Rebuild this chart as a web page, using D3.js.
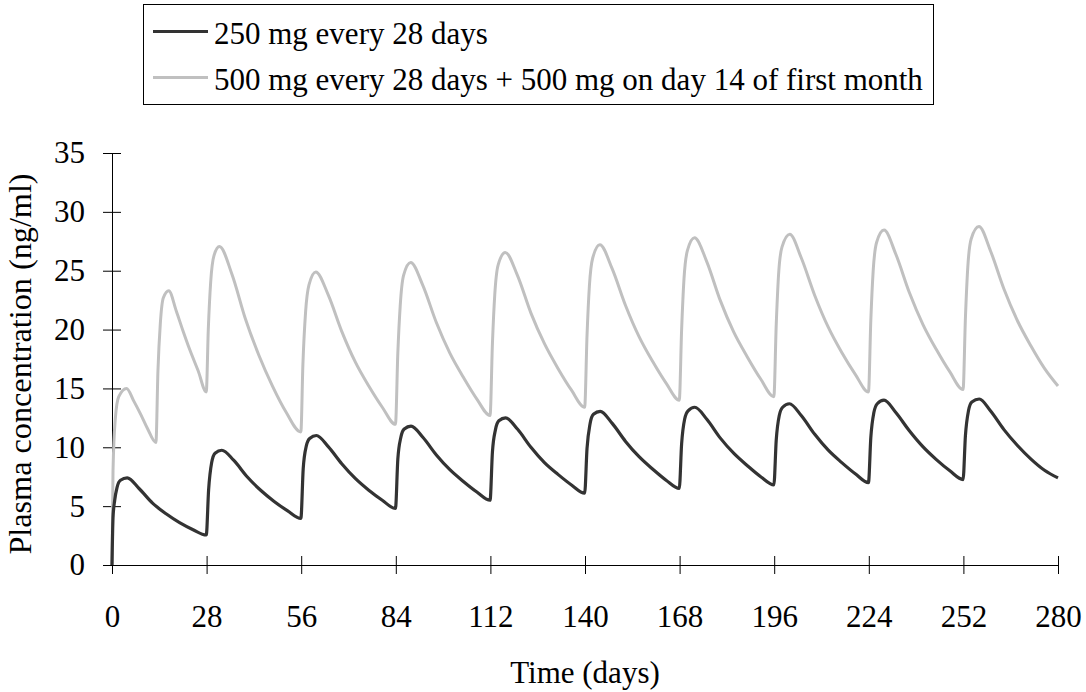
<!DOCTYPE html>
<html>
<head>
<meta charset="utf-8">
<script src="https://cdn.jsdelivr.net/npm/d3@7"></script>
<style>
  html, body { margin: 0; padding: 0; background: #fff; }
  svg { display: block; }
  text { font-family: "Liberation Serif", "Times New Roman", serif; fill: #000; }
</style>
</head>
<body>
<svg id="chart" width="1086" height="692"></svg>
<script>
// ---- data ----
const seriesNames = ["250 mg every 28 days", "500 mg every 28 days + 500 mg on day 14 of first month"];
const seriesColors = ["#333333", "#c0c0c0"];

const days250 = [0, 0.3, 0.8, 1.5, 2.5, 4.5, 8, 12, 16, 20, 24, 27.9,
  28.6, 29.5, 30.5, 32.5, 36, 40, 44, 48, 52, 55.9,
  56.6, 57.5, 58.5, 60.5, 64, 68, 72, 76, 80, 83.9,
  84.6, 85.5, 86.5, 88.5, 92, 96, 100, 104, 108, 111.9,
  112.6, 113.5, 114.5, 116.5, 120, 124, 128, 132, 136, 139.9,
  140.6, 141.5, 142.5, 144.5, 148, 152, 156, 160, 164, 167.9,
  168.6, 169.5, 170.5, 172.5, 176, 180, 184, 188, 192, 195.9,
  196.6, 197.5, 198.5, 200.5, 204, 208, 212, 216, 220, 223.9,
  224.6, 225.5, 226.5, 228.5, 232, 236, 240, 244, 248, 251.9,
  252.6, 253.5, 254.5, 256.7, 260, 264, 268, 272, 276, 280];
const conc250 = [0, 4.0, 5.5, 6.6, 7.2, 7.4, 6.5, 5.25, 4.35, 3.6, 3.0, 2.55,
  6.4, 8.7, 9.5, 9.75, 8.9, 7.5, 6.35, 5.4, 4.6, 3.95,
  8.2, 10.1, 10.75, 11.0, 10.05, 8.6, 7.35, 6.35, 5.5, 4.8,
  9.0, 10.85, 11.55, 11.8, 10.85, 9.35, 8.1, 7.1, 6.2, 5.5,
  9.6, 11.5, 12.25, 12.5, 11.55, 10.0, 8.7, 7.7, 6.8, 6.1,
  9.9, 12.0, 12.8, 13.05, 12.05, 10.5, 9.2, 8.15, 7.2, 6.5,
  10.3, 12.4, 13.1, 13.4, 12.4, 10.8, 9.5, 8.45, 7.5, 6.8,
  10.6, 12.7, 13.4, 13.7, 12.7, 11.1, 9.75, 8.7, 7.75, 7.0,
  10.85, 12.95, 13.7, 14.0, 12.95, 11.4, 10.05, 8.95, 8.0, 7.26,
  11.0, 13.1, 13.85, 14.1, 13.1, 11.5, 10.15, 9.0, 8.05, 7.4];

const days500 = [0, 0.3, 1.0, 2.0, 4.3, 6.5, 8.5, 10.5, 13.0,
  13.6, 14.3, 15.2, 16.8, 19, 21, 23, 25.5, 27.9,
  28.5, 29.2, 30.2, 31.8, 35.5, 39.5, 43.5, 47.5, 51.5, 55.9,
  56.5, 57.3, 58.3, 60.3, 64, 68, 72, 76, 80, 83.9,
  84.6, 85.3, 86.3, 88.4, 92, 96, 100, 104, 108, 111.9,
  112.6, 113.3, 114.3, 116.4, 120, 124, 128, 132, 136, 139.9,
  140.6, 141.3, 142.3, 144.4, 148, 152, 156, 160, 164, 167.9,
  168.6, 169.3, 170.3, 172.4, 176, 180, 184, 188, 192, 195.9,
  196.6, 197.3, 198.3, 200.6, 204, 208, 212, 216, 220, 223.9,
  224.6, 225.3, 226.3, 228.5, 232, 236, 240, 244, 248, 251.9,
  252.6, 253.3, 254.3, 256.6, 260, 264, 268, 272, 276, 280];
const conc500 = [0, 8.0, 12.5, 14.3, 15.0, 13.9, 12.8, 11.6, 10.4,
  16.5, 20.5, 22.7, 23.3, 21.6, 19.9, 18.3, 16.5, 14.7,
  20.0, 24.0, 26.3, 27.05, 24.7, 20.9, 17.8, 15.2, 13.0, 11.3,
  17.0, 21.5, 23.8, 24.9, 22.95, 19.85, 17.25, 15.2, 13.4, 11.95,
  18.0, 22.0, 24.6, 25.7, 23.75, 20.6, 18.0, 15.95, 14.1, 12.7,
  18.8, 23.0, 25.5, 26.55, 24.6, 21.4, 18.8, 16.7, 14.85, 13.4,
  19.5, 23.7, 26.1, 27.2, 25.2, 22.05, 19.4, 17.3, 15.45, 14.0,
  20.0, 24.3, 26.7, 27.8, 25.8, 22.5, 19.8, 17.7, 15.8, 14.3,
  20.4, 24.7, 27.0, 28.1, 26.1, 22.9, 20.2, 18.05, 16.2, 14.7,
  20.8, 25.0, 27.4, 28.45, 26.4, 23.15, 20.45, 18.3, 16.4, 14.9,
  21.0, 25.3, 27.7, 28.75, 26.7, 23.45, 20.75, 18.6, 16.7, 15.2];

const xTicks = [0, 28, 56, 84, 112, 140, 168, 196, 224, 252, 280];
const yTicks = [0, 5, 10, 15, 20, 25, 30, 35];
const xTitle = "Time (days)";
const yTitle = "Plasma concentration (ng/ml)";

// ---- layout ----
const svg = d3.select("#chart");
const mLeft = 112, mRight = 1058, mTop = 153, mBottom = 565;
const FS = 31;

const x = d3.scaleLinear().domain([0, 280]).range([mLeft, mRight]);
const y = d3.scaleLinear().domain([0, 35]).range([mBottom, mTop]);

// axes
const yAxis = d3.axisLeft(y).tickValues(yTicks).tickSizeInner(9).tickSizeOuter(0).tickPadding(18);
const gy = svg.append("g").attr("transform", `translate(${mLeft},0)`).call(yAxis);
gy.selectAll(".tick line").attr("x1", 9);
gy.selectAll("text").style("font-size", FS + "px").style("font-family", "Liberation Serif");

const xAxis = d3.axisBottom(x).tickValues(xTicks).tickSizeInner(9).tickSizeOuter(0).tickPadding(31);
const gx = svg.append("g").attr("transform", `translate(0,${mBottom})`).call(xAxis);
gx.selectAll(".tick line").attr("y1", -9);
gx.selectAll("text").style("font-size", FS + "px").style("font-family", "Liberation Serif");

svg.selectAll(".domain").attr("stroke", "#000");
svg.selectAll(".tick line").attr("stroke", "#000");

// lines
const line = d3.line().x(d => x(d[0])).y(d => y(d[1])).curve(d3.curveMonotoneX);
const data250 = days250.map((d, i) => [d, conc250[i]]);
const data500 = days500.map((d, i) => [d, conc500[i]]);

svg.append("path").datum(data500)
  .attr("fill", "none").attr("stroke", seriesColors[1]).attr("stroke-width", 3)
  .attr("stroke-linejoin", "round").attr("d", line);
svg.append("path").datum(data250)
  .attr("fill", "none").attr("stroke", seriesColors[0]).attr("stroke-width", 3.2)
  .attr("stroke-linejoin", "round").attr("d", line);

// axis titles
svg.append("text").attr("x", (mLeft + mRight) / 2).attr("y", 683)
  .attr("text-anchor", "middle").style("font-size", FS + "px").text(xTitle);
svg.append("text").attr("transform", `translate(31,364) rotate(-90) scale(1.04,1)`)
  .attr("text-anchor", "middle").style("font-size", FS + "px").text(yTitle);

// legend
const lg = svg.append("g");
lg.append("rect").attr("x", 143.5).attr("y", 4.5).attr("width", 790).attr("height", 100)
  .attr("fill", "#fff").attr("stroke", "#000").attr("stroke-width", 1);
seriesNames.forEach((name, i) => {
  const cy = 31.5 + i * 46;
  lg.append("line").attr("x1", 153).attr("x2", 208).attr("y1", cy).attr("y2", cy)
    .attr("stroke", seriesColors[i]).attr("stroke-width", 3);
  lg.append("text").attr("x", 214).attr("y", cy + 12).style("font-size", FS + "px").text(name);
});
</script>
</body>
</html>
